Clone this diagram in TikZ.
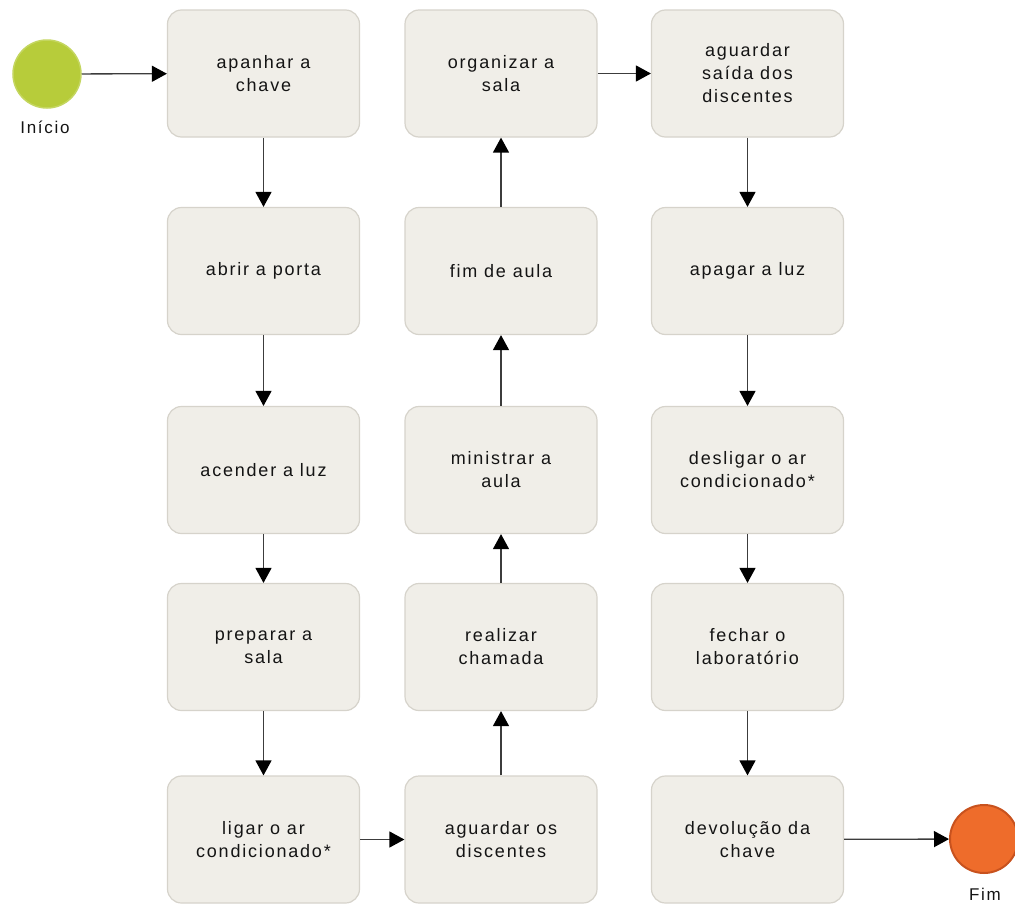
\documentclass[tikz,border=0pt]{standalone}
\usepackage{fontspec}
\setmainfont{Liberation Sans}[LetterSpace=10]
\usetikzlibrary{arrows.meta}
\definecolor{boxfill}{RGB}{240,238,232}
\definecolor{boxline}{RGB}{214,211,203}
\definecolor{startgreen}{RGB}{183,204,58}
\definecolor{startline}{RGB}{196,214,96}
\definecolor{endorange}{RGB}{238,108,43}
\definecolor{endline}{RGB}{200,82,30}
\definecolor{flowline}{RGB}{60,60,60}
\definecolor{textcol}{RGB}{20,20,20}
\begin{document}
\begin{tikzpicture}[x=1pt,y=-1pt,
  task/.style={draw=boxline, line width=1.2pt, fill=boxfill, rounded corners=14pt,
    minimum width=192pt, minimum height=127pt, align=center, inner sep=0pt,
    text=textcol, font=\fontsize{18}{23}\selectfont},
  flow/.style={draw=flowline, line width=1.3pt,
    -{Triangle[length=15pt,width=16pt,color=black]}},
  event/.style={circle, minimum size=68pt, inner sep=0pt},
  lbl/.style={font=\fontsize{17}{20}\selectfont, anchor=base, text=textcol}]
\useasboundingbox (0,0) rectangle (1015,905);

% start and end events
\node[event, fill=startgreen, draw=startline, line width=1.5pt] (start) at (47,74) {};
\node[lbl] (startlbl) at (45,133) {Início};
\node[event, fill=endorange, draw=endline, line width=2pt] (end) at (984,839) {};
\node[lbl] (endlbl) at (985,900) {Fim};

% first column
\node[task] (c1) at (263.5,73.5) {apanhar a\\chave};
\node[task] (c2) at (263.5,271) {abrir a porta};
\node[task] (c3) at (263.5,470) {acender a luz};
\node[task] (c4) at (263.5,647) {preparar a\\sala};
\node[task] (c5) at (263.5,839.5) {ligar o ar\\condicionado*};

% second column (bottom to top)
\node[task] (m5) at (501,839.5) {aguardar os\\discentes};
\node[task] (m4) at (501,647) {realizar\\chamada};
\node[task] (m3) at (501,470) {ministrar a\\aula};
\node[task] (m2) at (501,271) {fim de aula};
\node[task] (m1) at (501,73.5) {organizar a\\sala};

% third column
\node[task] (r1) at (747.5,73.5) {aguardar\\saída dos\\discentes};
\node[task] (r2) at (747.5,271) {apagar a luz};
\node[task] (r3) at (747.5,470) {desligar o ar\\condicionado*};
\node[task] (r4) at (747.5,647) {fechar o\\laboratório};
\node[task] (r5) at (747.5,839.5) {devolução da\\chave};

% sequence flows
\draw[flow] (start) -- (c1);
\draw[flow] (c1) -- (c2);
\draw[flow] (c2) -- (c3);
\draw[flow] (c3) -- (c4);
\draw[flow] (c4) -- (c5);
\draw[flow] (c5) -- (m5);
\draw[flow] (m5) -- (m4);
\draw[flow] (m4) -- (m3);
\draw[flow] (m3) -- (m2);
\draw[flow] (m2) -- (m1);
\draw[flow] (m1) -- (r1);
\draw[flow] (r1) -- (r2);
\draw[flow] (r2) -- (r3);
\draw[flow] (r3) -- (r4);
\draw[flow] (r4) -- (r5);
\draw[flow] (r5) -- (end);
\end{tikzpicture}
\end{document}
